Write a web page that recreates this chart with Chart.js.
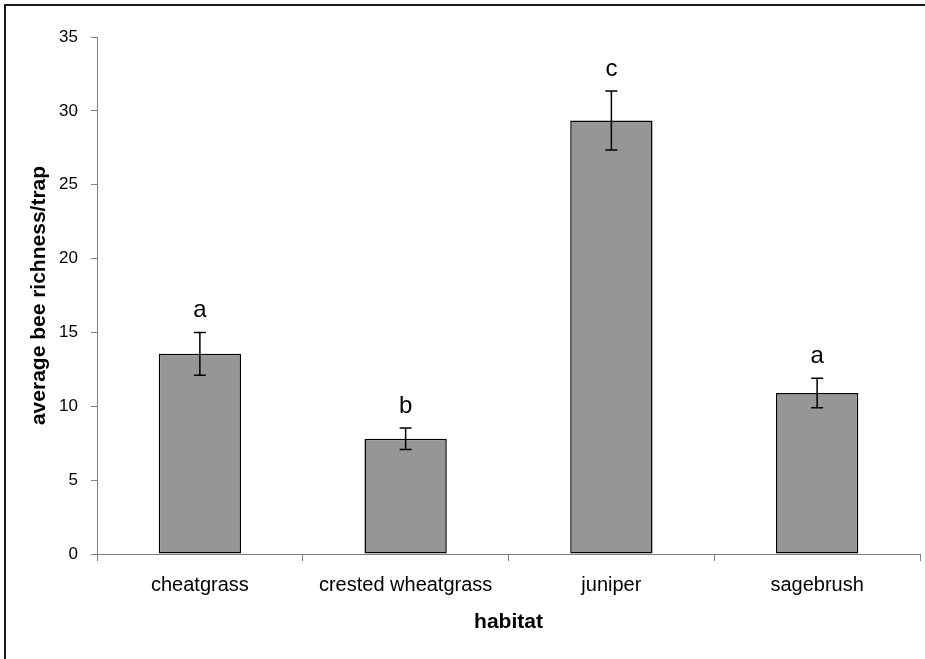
<!DOCTYPE html>
<html>
<head>
<meta charset="utf-8">
<script src="https://cdn.jsdelivr.net/npm/chart.js@4/dist/chart.umd.min.js"></script>
<style>
  html, body { margin: 0; padding: 0; background: #ffffff; }
  #wrap { width: 925px; height: 659px; position: relative; }
</style>
</head>
<body>
<div id="wrap"><canvas id="c" width="925" height="659"></canvas></div>
<script>
// Habitat categories and mean bee richness per trap
const habitats = ['cheatgrass', 'crested wheatgrass', 'juniper', 'sagebrush'];
const meanRichness = [13.55, 7.8, 29.35, 10.9];
const stdError = [1.45, 0.73, 2.0, 1.0];
const groupLetters = ['a', 'b', 'c', 'a'];
const yTicks = [0, 5, 10, 15, 20, 25, 30, 35];

// Outer frame around the figure (left and top edges)
const framePlugin = {
  id: 'frame',
  beforeDraw(chart) {
    const ctx = chart.ctx;
    ctx.save();
    ctx.fillStyle = '#ffffff';
    ctx.fillRect(0, 0, chart.width, chart.height);
    ctx.strokeStyle = '#1a1a1a';
    ctx.lineWidth = 2;
    ctx.beginPath();
    ctx.moveTo(5, chart.height);
    ctx.lineTo(5, 5);
    ctx.lineTo(chart.width, 5);
    ctx.stroke();
    ctx.restore();
  }
};

// Error bars and significance letters above each bar
const errorBarPlugin = {
  id: 'errorBars',
  afterDatasetsDraw(chart) {
    const ctx = chart.ctx;
    const y = chart.scales.y;
    const meta = chart.getDatasetMeta(0);
    ctx.save();
    ctx.strokeStyle = '#000000';
    ctx.lineWidth = 1.5;
    meta.data.forEach((bar, i) => {
      const x = bar.x;
      const top = y.getPixelForValue(meanRichness[i] + stdError[i]);
      const bot = y.getPixelForValue(meanRichness[i] - stdError[i]);
      const cap = 6;
      ctx.beginPath();
      ctx.moveTo(x, top); ctx.lineTo(x, bot);
      ctx.moveTo(x - cap, top); ctx.lineTo(x + cap, top);
      ctx.moveTo(x - cap, bot); ctx.lineTo(x + cap, bot);
      ctx.stroke();
      ctx.fillStyle = '#000000';
      ctx.font = '24px "Liberation Sans", Arial, sans-serif';
      ctx.textAlign = 'center';
      ctx.textBaseline = 'alphabetic';
      ctx.fillText(groupLetters[i], x, top - 15);
    });
    ctx.restore();
  }
};

new Chart(document.getElementById('c'), {
  type: 'bar',
  data: {
    labels: habitats,
    datasets: [{
      data: meanRichness,
      backgroundColor: '#969696',
      borderColor: '#000000',
      borderWidth: 1.5,
      borderSkipped: false,
      categoryPercentage: 1.0,
      barPercentage: 0.4
    }]
  },
  options: {
    responsive: false,
    animation: false,
    devicePixelRatio: 1,
    layout: { padding: { left: 0, top: 37, right: 5, bottom: 0 } },
    plugins: {
      legend: { display: false },
      tooltip: { enabled: false }
    },
    scales: {
      x: {
        afterFit(scale) { scale.height = 105; },
        grid: {
          offset: true,
          drawOnChartArea: false,
          drawTicks: true,
          tickLength: 7,
          color: '#808080',
          lineWidth: 1
        },
        border: { color: '#808080', width: 1 },
        ticks: {
          color: '#000000',
          padding: 12,
          maxRotation: 0,
          font: { family: '"Liberation Sans", Arial, sans-serif', size: 20 }
        },
        title: {
          display: true,
          text: 'habitat',
          color: '#000000',
          padding: { top: 0, bottom: 24 },
          font: { family: '"Liberation Sans", Arial, sans-serif', size: 21, weight: 'bold' }
        }
      },
      y: {
        min: 0,
        max: 35,
        afterFit(scale) { scale.width = 97; },
        afterBuildTicks(scale) { scale.ticks = yTicks.map(v => ({ value: v })); },
        grid: {
          drawOnChartArea: false,
          drawTicks: true,
          tickLength: 6,
          color: '#808080',
          lineWidth: 1
        },
        border: { color: '#808080', width: 1 },
        ticks: {
          color: '#000000',
          padding: 13,
          font: { family: '"Liberation Sans Narrow", "Liberation Sans", Arial, sans-serif', size: 17 }
        },
        title: {
          display: true,
          text: 'average bee richness/trap',
          color: '#000000',
          padding: { top: 27, bottom: 0 },
          font: { family: '"Liberation Sans", Arial, sans-serif', size: 21, weight: 'bold' }
        }
      }
    }
  },
  plugins: [framePlugin, errorBarPlugin]
});
</script>
</body>
</html>
